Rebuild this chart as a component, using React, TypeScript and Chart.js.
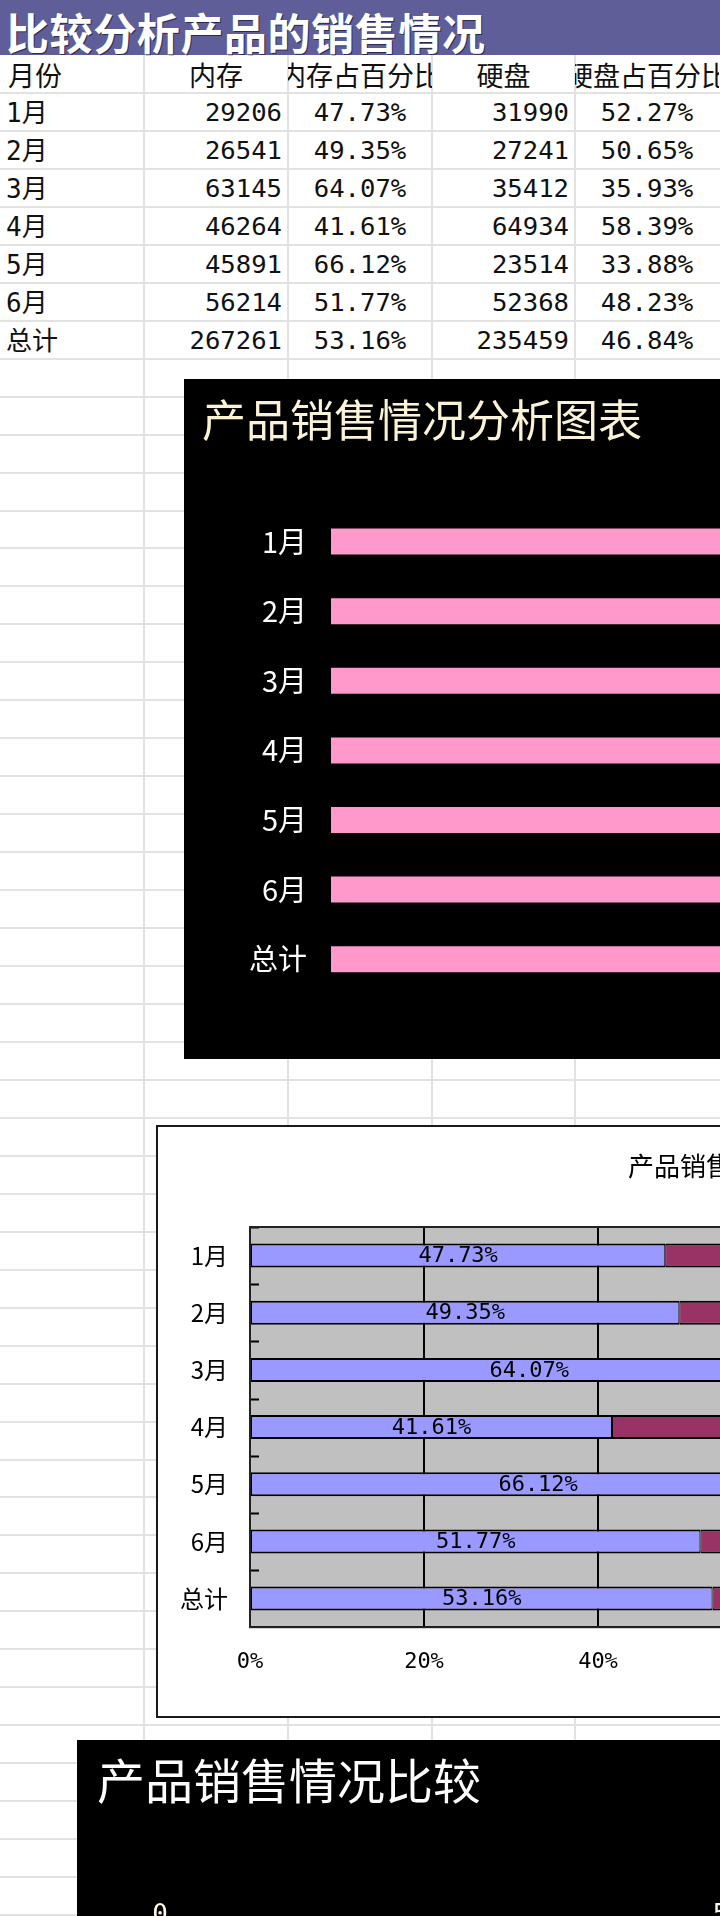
import React, { useEffect, useRef } from "react";
import { Chart, registerables } from "chart.js";

Chart.register(...registerables);

// ---------------- data ----------------
const months = ["1月", "2月", "3月", "4月", "5月", "6月", "总计"];
const memory = [29206, 26541, 63145, 46264, 45891, 56214, 267261];
const memoryPct = [47.73, 49.35, 64.07, 41.61, 66.12, 51.77, 53.16];
const disk = [31990, 27241, 35412, 64934, 23514, 52368, 235459];
const diskPct = [52.27, 50.65, 35.93, 58.39, 33.88, 48.23, 46.84];
const headers = ["月份", "内存", "内存占百分比", "硬盘", "硬盘占百分比"];
const sheetTitle = "比较分析产品的销售情况";
const chart1Title = "产品销售情况分析图表";
const chart2Title = "产品销售情况分析图表";
const chart3Title = "产品销售情况比较";
const pctAxisMax = 100;
const pctAxisStep = 20;
const countAxisMax = 100000;
const countAxisStep = 50000;

// ---------------- styling constants ----------------
const CJK = '"Noto Sans CJK SC", sans-serif';
const MONO = '"DejaVu Sans Mono", "Noto Sans CJK SC", monospace';
const ROW_H = 37.96;
const TOP0 = 55;
const COLS = [0, 144, 288, 432, 575, 719];
const GRID = "#e2e2e2";

function Cell(props: any) {
  const { row, col, text, align, font, size, pad } = props;
  const left = COLS[col];
  const width = COLS[col + 1] - COLS[col];
  return (
    <div
      style={{
        position: "absolute",
        left,
        top: TOP0 + row * ROW_H,
        width,
        height: ROW_H,
        display: "flex",
        alignItems: "center",
        justifyContent: align === "left" ? "flex-start" : align === "right" ? "flex-end" : "center",
        paddingLeft: align === "left" ? pad : 0,
        paddingRight: align === "right" ? pad : 0,
        boxSizing: "border-box",
        overflow: "hidden",
        whiteSpace: "nowrap",
        fontFamily: font,
        fontSize: size,
        color: "#111",
        lineHeight: 1,
      }}
    >
      <span style={{ flexShrink: 0, position: "relative", top: 1 }}>{text}</span>
    </div>
  );
}

function Sheet() {
  const lines: any[] = [];
  for (let k = 1; TOP0 + k * ROW_H < 1916; k++) {
    lines.push(
      <div key={"r" + k} style={{ position: "absolute", left: 0, top: TOP0 + k * ROW_H - 1, width: 720, height: 2, background: GRID }} />
    );
  }
  for (let c = 1; c < COLS.length - 1; c++) {
    lines.push(
      <div key={"c" + c} style={{ position: "absolute", left: COLS[c] - 1, top: TOP0, width: 2, height: 1916 - TOP0, background: GRID }} />
    );
  }
  const cells: any[] = [];
  headers.forEach((h, ci) => {
    cells.push(<Cell key={"h" + ci} row={0} col={ci} text={h} align={ci === 0 ? "left" : "center"} font={CJK} size={27} pad={8} />);
  });
  months.forEach((m, i) => {
    const r = i + 1;
    cells.push(<Cell key={"a" + i} row={r} col={0} text={m} align="left" font={MONO} size={26} pad={6} />);
    cells.push(<Cell key={"b" + i} row={r} col={1} text={String(memory[i])} align="right" font={MONO} size={25.6} pad={6} />);
    cells.push(<Cell key={"c" + i} row={r} col={2} text={memoryPct[i].toFixed(2) + "%"} align="center" font={MONO} size={25.6} pad={0} />);
    cells.push(<Cell key={"d" + i} row={r} col={3} text={String(disk[i])} align="right" font={MONO} size={25.6} pad={6} />);
    cells.push(<Cell key={"e" + i} row={r} col={4} text={diskPct[i].toFixed(2) + "%"} align="center" font={MONO} size={25.6} pad={0} />);
  });
  return (
    <>
      {lines}
      <div style={{ position: "absolute", left: 0, top: 0, width: 720, height: 55, background: "#5f5e99" }}>
        <div
          style={{
            position: "absolute",
            left: 6,
            top: 4,
            height: 55,
            lineHeight: "55px",
            fontFamily: CJK,
            fontSize: 43,
            fontWeight: 700,
            letterSpacing: 0.6,
            color: "#ffffff",
            whiteSpace: "nowrap",
            textShadow: "1px 1px 0 #2a2a50",
          }}
        >
          {sheetTitle}
        </div>
      </div>
      {cells}
    </>
  );
}

function Chart1() {
  const ref = useRef<HTMLCanvasElement>(null);
  useEffect(() => {
    const c = new Chart(ref.current as HTMLCanvasElement, {
      type: "bar",
      data: {
        labels: months,
        datasets: [
          { label: "内存占百分比", data: memoryPct, backgroundColor: "#ff99cc", borderWidth: 0, barPercentage: 0.374, categoryPercentage: 1 },
          { label: "硬盘占百分比", data: diskPct, backgroundColor: "#9999ff", borderWidth: 0, barPercentage: 0.374, categoryPercentage: 1 },
        ],
      },
      options: {
        indexAxis: "y",
        responsive: false,
        animation: false,
        layout: { padding: { left: 18, right: 53, top: 0, bottom: 65 } },
        plugins: {
          legend: { display: false },
          tooltip: { enabled: false },
          title: {
            display: true,
            text: chart1Title,
            align: "start",
            color: "#fbf3d6",
            font: { family: CJK, size: 44, weight: "normal", lineHeight: 1.2 },
            padding: { top: 15, bottom: 60 },
          },
        },
        scales: {
          x: { stacked: true, min: 0, max: pctAxisMax, display: false },
          y: {
            stacked: true,
            grid: { display: false, drawTicks: false },
            border: { display: false },
            ticks: { color: "#ffffff", font: { family: CJK, size: 29 }, padding: 24 },
            afterFit: (s: any) => {
              s.width = 129;
            },
          },
        },
      },
    } as any);
    return () => c.destroy();
  }, []);
  return <canvas ref={ref} width={1200} height={680} style={{ position: "absolute", left: 184, top: 379, background: "#000" }} />;
}

const chart2Decor = {
  id: "chart2Decor",
  beforeDraw(chart: any) {
    const { ctx, chartArea: a } = chart;
    ctx.save();
    ctx.fillStyle = "#c0c0c0";
    ctx.fillRect(a.left, a.top, a.right - a.left, a.bottom - a.top);
    ctx.restore();
  },
  afterDatasetsDraw(chart: any) {
    const { ctx, chartArea: a } = chart;
    ctx.save();
    ctx.font = '22px "DejaVu Sans Mono"';
    ctx.fillStyle = "#000";
    ctx.textAlign = "center";
    ctx.textBaseline = "middle";
    chart.data.datasets.forEach((ds: any, di: number) => {
      chart.getDatasetMeta(di).data.forEach((bar: any, i: number) => {
        const p = bar.getProps(["x", "base", "y"], true);
        ctx.fillText(Number(ds.data[i]).toFixed(2) + "%", (p.x + p.base) / 2, p.y + 1);
      });
    });
    // inside tick marks on the category axis
    const ys = chart.scales.y;
    ctx.strokeStyle = "#000";
    ctx.lineWidth = 2;
    for (let i = 0; i < chart.data.labels.length; i++) {
      const yy = Math.round(ys.getPixelForValue(i - 0.5)) + 0.5;
      ctx.beginPath();
      ctx.moveTo(a.left, yy);
      ctx.lineTo(a.left + 9, yy);
      ctx.stroke();
    }
    // plot border
    ctx.strokeStyle = "#222";
    ctx.lineWidth = 2;
    ctx.strokeRect(a.left, a.top, a.right - a.left, a.bottom - a.top);
    ctx.restore();
  },
  afterDraw(chart: any) {
    const ctx = chart.ctx;
    ctx.save();
    ctx.font = '26px "Noto Sans CJK SC"';
    ctx.fillStyle = "#000";
    ctx.textAlign = "center";
    ctx.textBaseline = "middle";
    ctx.fillText(chart2Title, chart.width / 2, 39);
    ctx.restore();
  },
};

function Chart2() {
  const ref = useRef<HTMLCanvasElement>(null);
  useEffect(() => {
    const bw = { top: 2, bottom: 2, left: 1, right: 1 };
    const c = new Chart(ref.current as HTMLCanvasElement, {
      type: "bar",
      data: {
        labels: months,
        datasets: [
          { label: "内存占百分比", data: memoryPct, backgroundColor: "#9999ff", borderColor: "#000", borderWidth: bw, borderSkipped: false, barPercentage: 0.42, categoryPercentage: 1 },
          { label: "硬盘占百分比", data: diskPct, backgroundColor: "#993366", borderColor: "#000", borderWidth: bw, borderSkipped: false, barPercentage: 0.42, categoryPercentage: 1 },
        ],
      },
      options: {
        indexAxis: "y",
        responsive: false,
        animation: false,
        layout: { padding: { left: 20, right: 238, top: 100, bottom: 18.8 } },
        plugins: { legend: { display: false }, tooltip: { enabled: false }, title: { display: false } },
        scales: {
          x: {
            stacked: true,
            min: 0,
            max: pctAxisMax,
            ticks: { stepSize: pctAxisStep, color: "#000", font: { family: MONO, size: 22 }, padding: 21.8, callback: (v: any) => v + "%" },
            grid: { color: "#000", lineWidth: 2, drawTicks: false },
            border: { display: true, color: "#000", width: 2 },
          },
          y: {
            stacked: true,
            grid: { display: false, drawTicks: false },
            border: { display: true, color: "#000", width: 2 },
            ticks: { color: "#000", font: { family: CJK, size: 24 }, padding: 22 },
            afterFit: (s: any) => {
              s.width = 72;
            },
          },
        },
      },
      plugins: [chart2Decor],
    } as any);
    return () => c.destroy();
  }, []);
  return (
    <div style={{ position: "absolute", left: 156, top: 1125, width: 1204, height: 593, border: "2px solid #1a1a1a", boxSizing: "border-box", background: "#fff" }}>
      <canvas ref={ref} width={1200} height={589} style={{ position: "absolute", left: 0, top: 0 }} />
    </div>
  );
}

function Chart3() {
  const ref = useRef<HTMLCanvasElement>(null);
  useEffect(() => {
    const c = new Chart(ref.current as HTMLCanvasElement, {
      type: "bar",
      data: {
        labels: months.slice(0, 6),
        datasets: [
          { label: "内存", data: memory.slice(0, 6), backgroundColor: "#9999ff" },
          { label: "硬盘", data: disk.slice(0, 6), backgroundColor: "#993366" },
        ],
      },
      options: {
        indexAxis: "y",
        responsive: false,
        animation: false,
        layout: { padding: { left: 20, right: 60, top: 0, bottom: 20 } },
        plugins: {
          legend: { display: false },
          tooltip: { enabled: false },
          title: {
            display: true,
            text: chart3Title,
            align: "start",
            color: "#ffffff",
            font: { family: CJK, size: 48, weight: "normal", lineHeight: 1.2 },
            padding: { top: 12.2, bottom: 80.4 },
          },
        },
        scales: {
          x: {
            position: "top",
            min: 0,
            max: countAxisMax,
            ticks: { stepSize: countAxisStep, color: "#fffbe8", font: { family: MONO, size: 26 }, padding: 10, callback: (v: any) => String(v) },
            grid: { display: false, drawTicks: false },
            border: { display: false },
          },
          y: {
            grid: { display: false, drawTicks: false },
            border: { display: false },
            ticks: { color: "#ffffff", font: { family: CJK, size: 28 }, padding: 10 },
            afterFit: (s: any) => {
              s.width = 63;
            },
          },
        },
      },
    } as any);
    return () => c.destroy();
  }, []);
  return <canvas ref={ref} width={1327} height={560} style={{ position: "absolute", left: 77, top: 1740, background: "#000" }} />;
}

export default function App() {
  return (
    <div style={{ position: "absolute", left: 0, top: 0, width: 720, height: 1916, overflow: "hidden", background: "#fff" }}>
      <Sheet />
      <Chart1 />
      <Chart2 />
      <Chart3 />
    </div>
  );
}
